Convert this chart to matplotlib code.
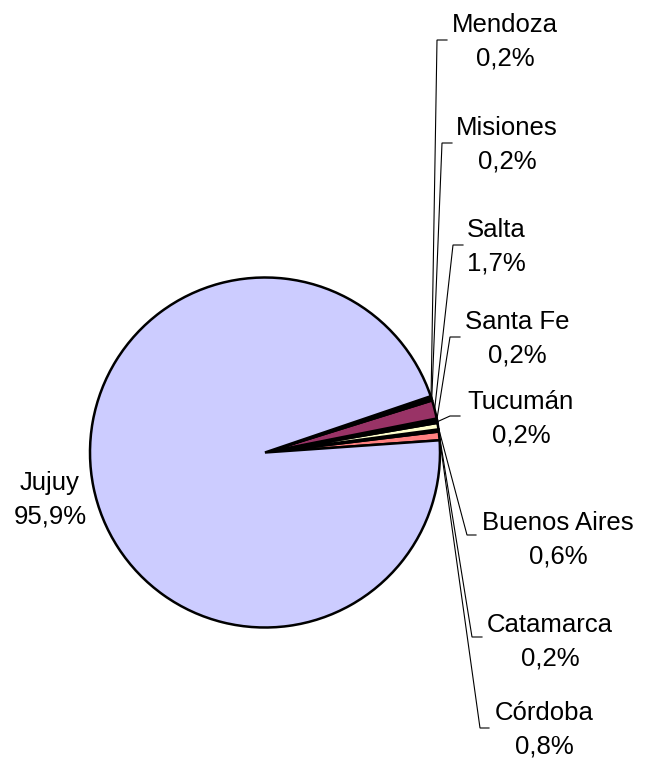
import matplotlib.pyplot as plt
import numpy as np

# data, in pie order (counter-clockwise from the start angle)
provincias = ['Córdoba', 'Catamarca', 'Buenos Aires', 'Tucumán', 'Santa Fe',
              'Salta', 'Misiones', 'Mendoza', 'Jujuy']
porcentajes = [0.8, 0.2, 0.6, 0.2, 0.2, 1.7, 0.2, 0.2, 95.9]
colores = ['#FF8080', '#800000', '#FFFFCC', '#000080', '#3366FF',
           '#993366', '#000080', '#9999FF', '#CCCCFF']

# label layout in pixels from top-left:
# text centre x, text centre y, leader corner x, leader end x, leader y
etiquetas = {
    'Mendoza':      (505, 42, 437, 447, 40),
    'Misiones':     (507, 145, 442, 452, 143),
    'Salta':        (496, 247, 453, 463, 245),
    'Santa Fe':     (517, 339, 450, 460, 337),
    'Tucumán':      (521, 419, 450, 460, 416),
    'Buenos Aires': (558, 540, 467, 476, 535),
    'Catamarca':    (550, 642, 472, 482, 637),
    'Córdoba':      (544, 730, 480, 489, 728),
    'Jujuy':        (50, 500, None, None, None),
}

W, H = 647, 764
plt.rcParams['font.family'] = ['Liberation Sans', 'DejaVu Sans']

fig = plt.figure(figsize=(W / 100, H / 100), dpi=100)
ax = fig.add_axes([0, 0, 1, 1])

cx, cy, r = 265, H - 452.5, 175
wedges, _ = ax.pie(porcentajes, colors=colores, startangle=4, counterclock=True,
                   center=(cx, cy), radius=r,
                   wedgeprops=dict(edgecolor='black', linewidth=1.8))
ax.set_xlim(0, W)
ax.set_ylim(0, H)
ax.set_aspect('equal')
ax.axis('off')

for w, nombre, val in zip(wedges, provincias, porcentajes):
    tx, ty, kx, ex, ly = etiquetas[nombre]
    texto = nombre + '\n' + ('%.1f' % val).replace('.', ',') + '%'
    ax.text(tx, H - ty, texto, ha='center', va='center', fontsize=18.5,
            linespacing=1.5, multialignment='center')
    if kx is None:
        continue
    ang = np.deg2rad((w.theta1 + w.theta2) / 2)
    sx, sy = cx + r * np.cos(ang), cy + r * np.sin(ang)
    ax.plot([sx, kx, ex], [sy, H - ly, H - ly], color='black', lw=0.8,
            solid_joinstyle='miter')

fig.savefig('out.png', dpi=100)
